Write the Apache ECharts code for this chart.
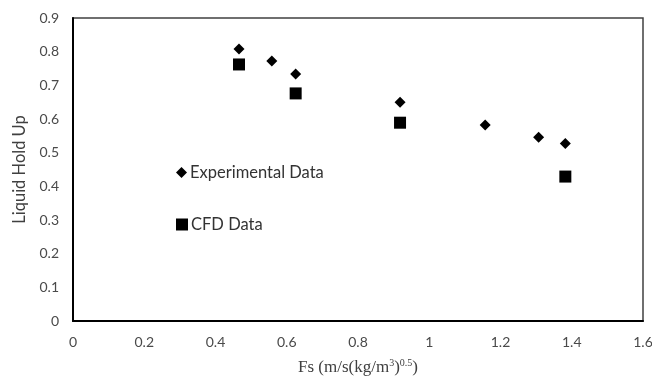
<!DOCTYPE html>
<html>
<head>
<meta charset="utf-8">
<script src="https://cdn.jsdelivr.net/npm/echarts@6/dist/echarts.min.js"></script>
<style>html,body{margin:0;padding:0;background:#fff;}#c{width:652px;height:379px;}</style>
</head>
<body>
<div id="c"></div>
<script>
const expX = [0.466, 0.558, 0.625, 0.918, 1.157, 1.307, 1.382];
const expY = [0.808, 0.772, 0.734, 0.650, 0.582, 0.546, 0.527];
const cfdX = [0.466, 0.625, 0.918, 1.382];
const cfdY = [0.762, 0.676, 0.589, 0.429];
const seriesNames = ['Experimental Data', 'CFD Data'];
const xTitle = 'Fs (m/s(kg/m';
const yTitle = 'Liquid Hold Up';

const chart = echarts.init(document.getElementById('c'));
const font = 'Lato, "Open Sans", sans-serif';
chart.setOption({
  animation: false,
  backgroundColor: '#fff',
  grid: { left: 73, right: 9, top: 18, bottom: 58, show: true, borderColor: '#404040', borderWidth: 1.5,
          containLabel: false, outerBoundsMode: 'none' },
  xAxis: {
    type: 'value', min: 0, max: 1.6, interval: 0.2,
    axisLine: { show: true, lineStyle: { color: '#000', width: 2 } },
    axisTick: { show: false },
    splitLine: { show: false },
    axisLabel: { color: '#4a4a4a', fontSize: 14, fontFamily: font, margin: 14 },
    name: '{a|' + xTitle + '}{s|3}{a|)}{s|0.5}{a|)}',
    nameLocation: 'middle', nameGap: 37,
    nameTextStyle: {
      rich: {
        a: { fontFamily: '"Liberation Serif", serif', fontSize: 17, color: '#404040' },
        s: { fontFamily: '"Liberation Serif", serif', fontSize: 10, color: '#404040', verticalAlign: 'top', padding: [0, 0, 9, 0] }
      }
    }
  },
  yAxis: {
    type: 'value', min: 0, max: 0.9, interval: 0.1,
    axisLine: { show: true, lineStyle: { color: '#000', width: 2 } },
    axisTick: { show: false },
    splitLine: { show: false },
    axisLabel: { color: '#4a4a4a', fontSize: 14, fontFamily: font, margin: 14 },
    name: yTitle, nameLocation: 'middle', nameGap: 41,
    nameTextStyle: { fontFamily: font, fontSize: 16.5, color: '#404040' }
  },
  legend: [
    { data: [seriesNames[0]], left: 171, top: 159, orient: 'vertical', itemWidth: 11, itemHeight: 11,
      textStyle: { fontFamily: font, fontSize: 16.5, color: '#333', padding: [0, 0, 0, -2] } },
    { data: [seriesNames[1]], left: 171, top: 211, orient: 'vertical', itemWidth: 12, itemHeight: 12,
      textStyle: { fontFamily: font, fontSize: 16.5, color: '#333', padding: [0, 0, 0, -2] } }
  ],
  series: [
    { name: seriesNames[0], type: 'scatter', symbol: 'diamond', symbolSize: 11,
      itemStyle: { color: '#000', opacity: 1 }, data: expX.map((x, i) => [x, expY[i]]) },
    { name: seriesNames[1], type: 'scatter', symbol: 'rect', symbolSize: 12,
      itemStyle: { color: '#000', opacity: 1 }, data: cfdX.map((x, i) => [x, cfdY[i]]) }
  ]
});
</script>
</body>
</html>
